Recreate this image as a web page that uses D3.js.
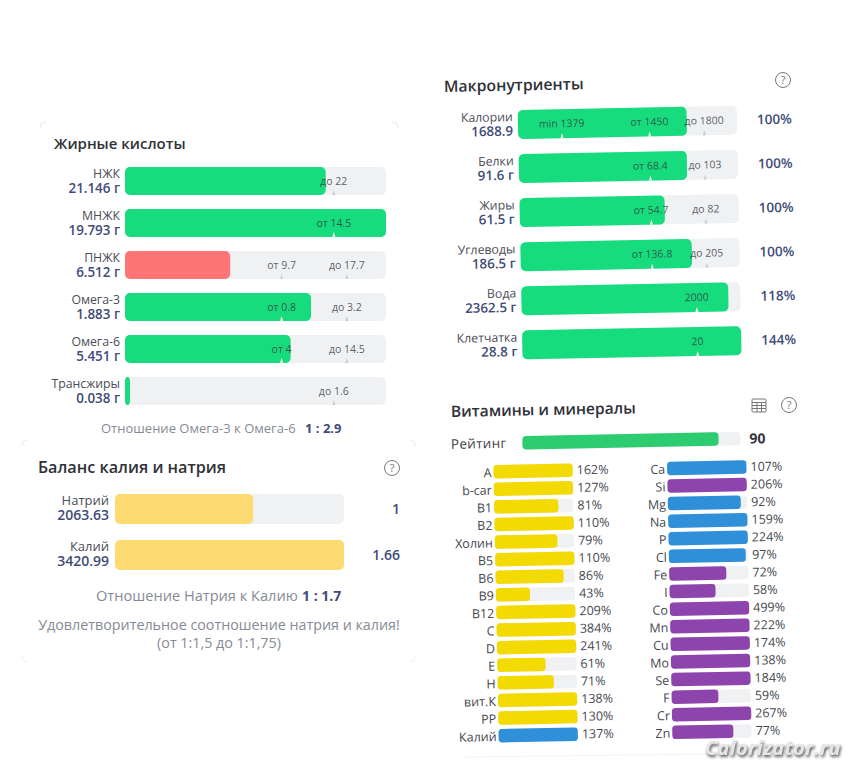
<!DOCTYPE html>
<html>
<head>
<meta charset="utf-8">
<script src="https://cdn.jsdelivr.net/npm/d3@7"></script>
<style>
  html, body { margin: 0; padding: 0; background: #fff; }
  text { font-family: "Open Sans", "Noto Sans", sans-serif; }
  .title { font-weight: 600; fill: #2f3138; }
  .name { font-size: 12.3px; fill: #4b4d57; text-anchor: end; }
  .amount { font-size: 13.4px; font-weight: 600; fill: #414c78; text-anchor: end; }
  .mark { font-size: 10.5px; fill: #33363c; fill-opacity: .8; text-anchor: middle; }
  .note { fill: #868a96; }
  .ratio { font-weight: 700; fill: #414c78; }
  .pct { font-size: 13.5px; font-weight: 600; fill: #414c78; }
  .vit { font-size: 12.5px; fill: #45474f; }
  .icon { fill: none; stroke: #777; stroke-width: 1; }
</style>
</head>
<body>
<svg id="chart" width="867" height="768"></svg>
<script>
// Fatty acids
const fatNames = ["НЖК", "МНЖК", "ПНЖК", "Омега-3", "Омега-6", "Трансжиры"];
const fatAmounts = [21.146, 19.793, 6.512, 1.883, 5.451, 0.038];
const fatFrom = [null, 14.5, 9.7, 0.8, 4, null];
const fatTo = [22, null, 17.7, 3.2, 14.5, 1.6];

// Macronutrients
const macroNames = ["Калории", "Белки", "Жиры", "Углеводы", "Вода", "Клетчатка"];
const macroAmounts = [1688.9, 91.6, 61.5, 186.5, 2362.5, 28.8];
const macroUnits = ["", " г", " г", " г", " г", " г"];
const macroMin = [1379, null, null, null, null, null];
const macroFrom = [1450, 68.4, 54.7, 136.8, null, null];
const macroTo = [1800, 103, 82, 205, null, null];
const macroTarget = [null, null, null, null, 2000, 20];
const macroPct = [100, 100, 100, 100, 118, 144];

// Potassium / sodium
const balanceNames = ["Натрий", "Калий"];
const balanceAmounts = [2063.63, 3420.99];
const balanceRatio = ["1", "1.66"];

// Vitamins and minerals
const rating = 90;
const vitNames = ["A", "b-car", "B1", "B2", "Холин", "B5", "B6", "B9", "B12", "C", "D", "E", "H", "вит.К", "PP", "Калий"];
const vitPct = [162, 127, 81, 110, 79, 110, 86, 43, 209, 384, 241, 61, 71, 138, 130, 137];
const vitGroup = ["v", "v", "v", "v", "v", "v", "v", "v", "v", "v", "v", "v", "v", "v", "v", "e"];
const minNames = ["Ca", "Si", "Mg", "Na", "P", "Cl", "Fe", "I", "Co", "Mn", "Cu", "Mo", "Se", "F", "Cr", "Zn"];
const minPct = [107, 206, 92, 159, 224, 97, 72, 58, 499, 222, 174, 138, 184, 59, 267, 77];
const minGroup = ["e", "t", "e", "e", "e", "e", "t", "t", "t", "t", "t", "t", "t", "t", "t", "t"];

const GREEN = "#16dc7e", RED = "#ff7474", TRACK = "#f0f1f3";
const groupColor = d3.scaleOrdinal().domain(["v", "e", "t"]).range(["#f3da03", "#2f8fd9", "#8e44ad"]);

const svg = d3.select("#chart");
const TILT = -1.12;

// where the norm marks sit along the bar, as used by the source widget
function normScale(min, from, to, target, width) {
  let dom, rng;
  if (from != null && to != null) {
    dom = [0, from, to, to * 1.5]; rng = [0, .6, .85, 1];
    if (min != null) { dom.splice(1, 0, min); rng.splice(1, 0, .2); }
  } else {
    const one = from ?? to ?? target;
    dom = [0, one, one * 1.25]; rng = [0, .8, 1];
  }
  return d3.scaleLinear().domain(dom).range(rng.map(r => r * width)).clamp(true);
}

function rangeBars(g, rows, width, height, step) {
  const y = d3.scalePoint().domain(rows.map(d => d.name)).range([0, (rows.length - 1) * step]);
  const row = g.selectAll("g").data(rows).join("g")
    .attr("transform", d => `translate(0,${y(d.name)})`);

  row.append("rect").attr("width", width).attr("height", height).attr("rx", 5).attr("fill", TRACK);
  row.append("rect")
    .attr("width", d => Math.max(d.x(d.value), 5))
    .attr("height", height).attr("rx", 5)
    .attr("fill", d => d.color);

  row.each(function(d) {
    const r = d3.select(this);
    d.marks.forEach(m => {
      const px = d.x(m.v);
      r.append("path")
        .attr("d", d3.line()([[px - 1.5, height], [px, height - 5], [px + 1.5, height]]))
        .attr("fill", px < d.x(d.value) ? "#fff" : "#c9cbd0");
      r.append("text").attr("class", "mark")
        .attr("x", px).attr("y", height / 2 + 3.5).text(m.label);
    });
  });

  row.append("text").attr("class", "name").attr("x", -5).attr("y", 11).text(d => d.name);
  row.append("text").attr("class", "amount").attr("x", -5).attr("y", 25.5).text(d => d.amountText);
  return row;
}

function marksOf(min, from, to, target) {
  const out = [];
  if (min != null) out.push({ v: min, label: "min " + min });
  if (from != null) out.push({ v: from, label: "от " + from });
  if (to != null) out.push({ v: to, label: "до " + to });
  if (target != null) out.push({ v: target, label: "" + target });
  return out;
}

function helpIcon(cx, cy) {
  const g = svg.append("g").attr("transform", `translate(${cx},${cy})`);
  g.append("circle").attr("class", "icon").attr("r", 7.5);
  g.append("text").attr("text-anchor", "middle").attr("y", 4).attr("font-size", 11).attr("fill", "#777").text("?");
}

// =========================
// FATTY ACIDS
// =========================
const fatWidth = 261;
svg.append("text").attr("class", "title").style("font-size", "15px").attr("x", 54).attr("y", 149).text("Жирные кислоты");
const fatRows = fatNames.map((name, i) => ({
  name,
  value: fatAmounts[i],
  amountText: fatAmounts[i] + " г",
  x: normScale(null, fatFrom[i], fatTo[i], null, fatWidth),
  marks: marksOf(null, fatFrom[i], fatTo[i], null),
  color: fatFrom[i] != null && fatAmounts[i] < fatFrom[i] ? RED : GREEN
}));
rangeBars(svg.append("g").attr("transform", "translate(125,167)"), fatRows, fatWidth, 28, 42);
svg.append("text").attr("class", "note").style("font-size", "13px").attr("x", 101).attr("y", 433).text("Отношение Омега-3 к Омега-6");
svg.append("text").attr("class", "ratio").style("font-size", "13px").attr("x", 305).attr("y", 433).text("1 : 2.9");

// =========================
// POTASSIUM / SODIUM
// =========================
const balWidth = 229;
const balX = d3.scaleLinear().domain([0, d3.max(balanceAmounts)]).range([0, balWidth]);
svg.append("text").attr("class", "title").style("font-size", "16.2px").attr("x", 38).attr("y", 473).text("Баланс калия и натрия");
helpIcon(392, 468);
const balRows = balanceNames.map((name, i) => ({
  name, value: balanceAmounts[i], amountText: "" + balanceAmounts[i],
  x: balX, marks: [], color: "#fddb72"
}));
const balG = svg.append("g").attr("transform", "translate(115,494)");
const balRow = rangeBars(balG, balRows, balWidth, 30, 46);
balRow.select(".name").attr("x", -6).attr("y", 11).style("font-size", "13px");
balRow.select(".amount").attr("x", -6).attr("y", 26).style("font-size", "14px");
balRow.append("text").attr("class", "pct").style("font-size", "14px").attr("x", 285).attr("y", 20).attr("text-anchor", "end")
  .text((d, i) => balanceRatio[i]);
svg.append("text").attr("class", "note").style("font-size", "14.6px").attr("x", 96).attr("y", 601).text("Отношение Натрия к Калию");
svg.append("text").attr("class", "ratio").style("font-size", "14px").attr("x", 302).attr("y", 601).text("1 : 1.7");
svg.append("text").attr("class", "note").style("font-size", "14.3px").attr("x", 219).attr("y", 630).attr("text-anchor", "middle")
  .text("Удовлетворительное соотношение натрия и калия!");
svg.append("text").attr("class", "note").style("font-size", "14.3px").attr("x", 219).attr("y", 648).attr("text-anchor", "middle")
  .text("(от 1:1,5 до 1:1,75)");

// faint card corners
[[40, 122, 1, 1], [398, 122, -1, 1], [22, 440, 1, 1], [415, 440, -1, 1], [22, 662, 1, -1], [415, 662, -1, -1]]
  .forEach(([x, y, sx, sy]) => {
    svg.append("path")
      .attr("d", `M${x},${y + 6 * sy} Q${x},${y} ${x + 6 * sx},${y}`)
      .attr("fill", "none").attr("stroke", y > 500 ? "#f3f4f5" : "#e9eaec").attr("stroke-width", 1.2);
  });

// =========================
// MACRONUTRIENTS
// =========================
const macroWidth = 219;
svg.append("text").attr("class", "title").style("font-size", "15.8px").attr("x", 444).attr("y", 92)
  .attr("transform", `rotate(${TILT},444,92)`).text("Макронутриенты");
helpIcon(783, 80);
const macroRows = macroNames.map((name, i) => ({
  name,
  value: macroAmounts[i],
  amountText: macroAmounts[i] + macroUnits[i],
  x: normScale(macroMin[i], macroFrom[i], macroTo[i], macroTarget[i], macroWidth),
  marks: marksOf(macroMin[i], macroFrom[i], macroTo[i], macroTarget[i]),
  color: GREEN
}));
const macroG = svg.append("g").attr("transform", `translate(517.7,110) rotate(${TILT})`);
const macroRow = rangeBars(macroG, macroRows, macroWidth, 29, 44.1);
macroRow.append("text").attr("class", "pct").attr("x", 239).attr("y", 19).text((d, i) => macroPct[i] + "%");

// =========================
// VITAMINS AND MINERALS
// =========================
svg.append("text").attr("class", "title").style("font-size", "15.6px").attr("x", 451).attr("y", 417)
  .attr("transform", `rotate(${TILT},451,417)`).text("Витамины и минералы");
helpIcon(789, 405);

// table icon
const tableIcon = svg.append("g").attr("transform", "translate(752,399)");
tableIcon.append("rect").attr("class", "icon").attr("width", 14).attr("height", 13).attr("rx", 1);
[3.5, 6.5, 9.5].forEach(v => tableIcon.append("line").attr("class", "icon").attr("x1", 0).attr("x2", 14).attr("y1", v).attr("y2", v));
[5, 9.5].forEach(v => tableIcon.append("line").attr("class", "icon").attr("y1", 3.5).attr("y2", 13).attr("x1", v).attr("x2", v));

const ratingX = d3.scaleLinear().domain([0, 100]).range([0, 218]);
const ratingG = svg.append("g").attr("transform", `translate(522.3,436) rotate(${TILT})`);
ratingG.append("rect").attr("width", ratingX(100)).attr("height", 13.5).attr("rx", 4).attr("fill", TRACK);
ratingG.append("rect").attr("width", ratingX(rating)).attr("height", 13.5).attr("rx", 4).attr("fill", "#2ecc71");
ratingG.append("text").attr("x", -71.5).attr("y", 11.5).attr("font-size", 13.5).attr("font-weight", 500)
  .attr("letter-spacing", .3).attr("fill", "#3f4149").text("Рейтинг");
ratingG.append("text").attr("x", 227).attr("y", 12).attr("font-size", 14).attr("font-weight", 700)
  .attr("fill", "#33353c").text(rating);

const pctX = d3.scaleLinear().domain([0, 100]).range([0, 79.3]).clamp(true);

function nutrientColumn(left, top, names, pcts, groups) {
  const y = d3.scalePoint().domain(names).range([0, 15 * 17.6]);
  const g = svg.append("g").attr("transform", `translate(${left},${top}) rotate(${TILT})`);
  const row = g.selectAll("g").data(names).join("g")
    .attr("transform", d => `translate(0,${y(d)})`);
  row.append("rect").attr("width", pctX(100)).attr("height", 13.5).attr("rx", 3.5).attr("fill", TRACK);
  row.append("rect").attr("width", (d, i) => pctX(pcts[i])).attr("height", 13.5).attr("rx", 3.5)
    .attr("fill", (d, i) => groupColor(groups[i]));
  row.append("text").attr("class", "vit").attr("x", -2).attr("y", 12).attr("text-anchor", "end").text(d => d);
  row.append("text").attr("class", "vit").attr("x", pctX(100) + 4).attr("y", 11).text((d, i) => pcts[i] + "%");
}
nutrientColumn(493.3, 465, vitNames, vitPct, vitGroup);
nutrientColumn(667, 461.7, minNames, minPct, minGroup);

svg.append("line").attr("x1", 463).attr("x2", 800).attr("y1", 757).attr("y2", 753)
  .attr("stroke", "#f2f3f4").attr("stroke-width", 1);

// watermark
svg.append("text").attr("x", 705).attr("y", 755)
  .attr("font-size", 20).attr("font-weight", 700).attr("font-style", "italic")
  .attr("letter-spacing", .3).attr("fill", "#e6e6e6")
  .style("filter", "drop-shadow(1px 2px 1.5px rgba(0,0,0,.7))")
  .text("Calorizator.ru");
</script>
</body>
</html>
